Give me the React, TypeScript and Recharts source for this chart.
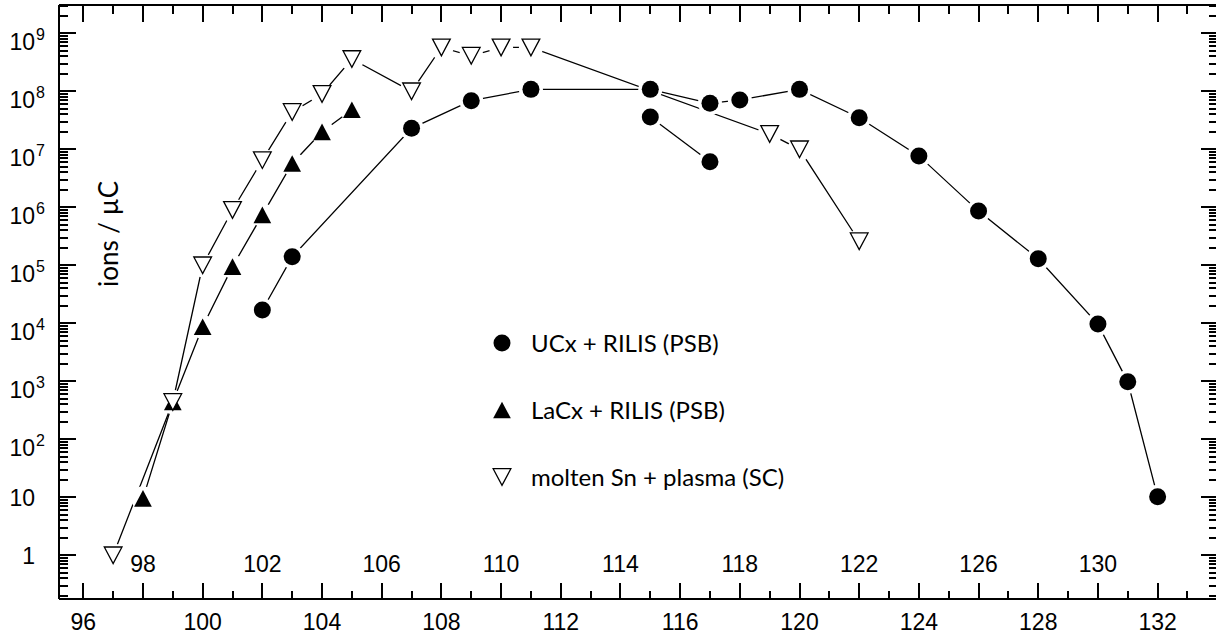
import React from 'react';
import { LineChart, Line, XAxis, YAxis, Legend } from 'recharts';

// ion yields (ions / µC) against mass number
const ucxMass = [102, 103, 107, 109, 111, 115, 117, 118, 120, 122, 124, 126, 128, 130, 131, 132];
const ucxYield = [1.7e4, 1.4e5, 2.3e7, 6.9e7, 1.08e8, 1.08e8, 6.2e7, 7.1e7, 1.08e8, 3.5e7, 7.7e6, 8.6e5, 1.3e5, 9.7e3, 9.8e2, 10.2];
// second UCx branch (115 -> 117), drawn as its own segment
const ucxBranchMass = [115, 117];
const ucxBranchYield = [3.6e7, 6.1e6];
const lacxMass = [98, 99, 100, 101, 102, 103, 104, 105];
const lacxYield = [9.6, 4.4e2, 8.7e3, 9.5e4, 7.4e5, 5.7e6, 2.0e7, 4.8e7];
const snMass = [97, 99, 100, 101, 102, 103, 104, 105, 107, 108, 109, 110, 111, 119, 120, 122];
const snYield = [1.0, 4.4e2, 1.0e5, 9e5, 6.5e6, 4.4e7, 9e7, 3.6e8, 1.0e8, 5.7e8, 4.1e8, 5.7e8, 5.7e8, 1.84e7, 1.0e7, 2.6e5];

const legendLabels = ['UCx + RILIS (PSB)', 'LaCx + RILIS (PSB)', 'molten Sn + plasma (SC)'];
const legendKinds = ['circle', 'up', 'down'];

const massTicks = [96, 97, 98, 99, 100, 101, 102, 103, 104, 105, 106, 107, 108, 109, 110, 111, 112, 113, 114,
  115, 116, 117, 118, 119, 120, 121, 122, 123, 124, 125, 126, 127, 128, 129, 130, 131, 132, 133];
const decades = [-1, 0, 1, 2, 3, 4, 5, 6, 7, 8, 9];
const mantissas = [1, 2, 3, 4, 5, 6, 7, 8, 9];

const X_DOMAIN = [95.186, 133.99];
const Y_DOMAIN = [Math.pow(10, -0.753), Math.pow(10, 9.488)];

const yieldTicks: number[] = [];
decades.forEach((k) => mantissas.forEach((m) => {
  const v = Number(`${m}e${k}`);
  if (v >= Y_DOMAIN[0] && v <= Y_DOMAIN[1]) yieldTicks.push(v);
}));

const tickFont = '"Liberation Sans", Arial, sans-serif';
const textFont = 'Lato, "Open Sans", sans-serif';

const toPoints = (xs: number[], ys: number[]) => xs.map((x, i) => ({ x, y: ys[i] }));

const series = [
  { key: 'ucx', kind: 'circle', data: toPoints(ucxMass, ucxYield) },
  { key: 'ucx2', kind: 'circle', data: toPoints(ucxBranchMass, ucxBranchYield) },
  { key: 'lacx', kind: 'up', data: toPoints(lacxMass, lacxYield) },
  { key: 'sn', kind: 'down', data: toPoints(snMass, snYield) },
];

const Marker = ({ kind, cx, cy }: { kind: string; cx: number; cy: number }) => {
  const w = 8.85;
  const h = 8.3;
  if (kind === 'circle') return <circle cx={cx} cy={cy} r={8.5} fill="#000" />;
  if (kind === 'up') {
    return <polygon points={`${cx},${cy - h} ${cx + w},${cy + h} ${cx - w},${cy + h}`} fill="#000" />;
  }
  return (
    <polygon points={`${cx - w},${cy - h} ${cx + w},${cy - h} ${cx},${cy + h}`}
      fill="#fff" stroke="#000" strokeWidth={1.3} />
  );
};

const isDecade = (v: number) => Math.abs(Math.log10(v) - Math.round(Math.log10(v))) < 1e-9;

// inward tick marks as 2px rects snapped to whole pixels
const hTick = (x0: number, y: number, len: number) => (
  <rect x={Math.round(Math.min(x0, x0 + len))} y={Math.round(y) - 1} width={Math.abs(len)} height={2} fill="#000" />
);
const vTick = (x: number, y0: number, len: number) => (
  <rect x={Math.round(x) - 1} y={Math.round(Math.min(y0, y0 + len))} width={2} height={Math.abs(len)} fill="#000" />
);

const LeftTick = (props: any) => {
  const x = Number(props.x);
  const y = Number(props.y);
  const v = props.payload.value as number;
  const major = isDecade(v);
  const exp = Math.round(Math.log10(v));
  let label = null;
  if (major && exp === 0) {
    label = <text x={x - 24} y={y + 9} textAnchor="end" fontFamily={tickFont} fontSize={23} fill="#000">1</text>;
  } else if (major && exp === 1) {
    label = <text x={x - 24} y={y + 9} textAnchor="end" fontFamily={tickFont} fontSize={23} fill="#000">10</text>;
  } else if (major) {
    label = (
      <g>
        <text x={x - 24} y={y + 16.5} textAnchor="end" fontFamily={tickFont} fontSize={23} fill="#000">10</text>
        <text x={x - 23} y={y + 6.5} textAnchor="start" fontFamily={tickFont} fontSize={16} fill="#000">{exp}</text>
      </g>
    );
  }
  return (
    <g>
      {hTick(x, y, major ? 17 : 9)}
      {label}
    </g>
  );
};

const RightTick = (props: any) => hTick(Number(props.x), Number(props.y), isDecade(props.payload.value) ? -16 : -8);

const BottomTick = (props: any) => {
  const x = Number(props.x);
  const y = Number(props.y);
  const v = props.payload.value as number;
  const major = v % 2 === 0;
  return (
    <g>
      {vTick(x, y, major ? -16 : -8)}
      {major && (
        <text x={x} y={v % 4 === 0 ? y + 31 : y - 27} textAnchor="middle"
          fontFamily={tickFont} fontSize={23} fill="#000">{v}</text>
      )}
    </g>
  );
};

const TopTick = (props: any) => vTick(Number(props.x), Number(props.y), (props.payload.value as number) % 2 === 0 ? 17 : 9);

const LegendBox = () => (
  <svg width={420} height={200} style={{ display: 'block' }}>
    {legendLabels.map((label, i) => {
      const cy = 33 + i * 67;
      return (
        <g key={label}>
          <Marker kind={legendKinds[i]} cx={22} cy={cy} />
          <text x={51} y={cy + 8.5} fontFamily={textFont} fontSize={24} fill="#000">{label}</text>
        </g>
      );
    })}
  </svg>
);

export default function App() {
  return (
    <div style={{ position: 'absolute', left: 0, top: 0, width: 1216, height: 635, overflow: 'hidden', background: '#fff' }}>
      <LineChart width={1218} height={635} margin={{ top: 0, right: 0, bottom: 0, left: 0 }}>
        <XAxis xAxisId="bottom" dataKey="x" type="number" domain={X_DOMAIN} allowDataOverflow
          ticks={massTicks} interval={0} height={36} tickSize={0} tickMargin={0} tickLine={false}
          axisLine={{ stroke: '#000', strokeWidth: 2 }} tick={<BottomTick />} />
        <XAxis xAxisId="top" orientation="top" dataKey="x" type="number" domain={X_DOMAIN} allowDataOverflow
          ticks={massTicks} interval={0} height={5} tickSize={0} tickMargin={0} tickLine={false}
          axisLine={{ stroke: '#000', strokeWidth: 2 }} tick={<TopTick />} />
        <YAxis yAxisId="left" type="number" scale="log" domain={Y_DOMAIN} allowDataOverflow
          ticks={yieldTicks} interval={0} width={59} tickSize={0} tickMargin={0} tickLine={false}
          axisLine={{ stroke: '#000', strokeWidth: 2 }} tick={<LeftTick />} />
        <YAxis yAxisId="right" orientation="right" type="number" scale="log" domain={Y_DOMAIN} allowDataOverflow
          ticks={yieldTicks} interval={0} width={1} tickSize={0} tickMargin={0} tickLine={false}
          axisLine={false} tick={<RightTick />} />

        {series.map((s) => (
          <Line key={`line-${s.key}`} data={s.data} dataKey="y" xAxisId="bottom" yAxisId="left"
            stroke="#000" strokeWidth={1.3} dot={false} activeDot={false} legendType="none"
            isAnimationActive={false} />
        ))}
        {series.map((s) => (
          <Line key={`halo-${s.key}`} data={s.data} dataKey="y" xAxisId="top" yAxisId="right"
            stroke="none" activeDot={false} legendType="none" isAnimationActive={false}
            dot={(p: any) => <circle key={`h-${s.key}-${p.index}`} cx={p.cx} cy={p.cy} r={12} fill="#fff" />} />
        ))}
        {series.map((s) => (
          <Line key={`mark-${s.key}`} data={s.data} dataKey="y" xAxisId="bottom" yAxisId="left"
            stroke="none" activeDot={false} legendType="none" isAnimationActive={false}
            dot={(p: any) => <g key={`m-${s.key}-${p.index}`}><Marker kind={s.kind} cx={p.cx} cy={p.cy} /></g>} />
        ))}

        <text transform="translate(118, 234) rotate(-90)" textAnchor="middle"
          fontFamily={textFont} fontSize={26} fill="#000">ions / µC</text>

        <Legend layout="vertical" align="center" verticalAlign="middle" content={<LegendBox />}
          wrapperStyle={{ left: 480, top: 310, width: 420, height: 200 }} />
      </LineChart>
    </div>
  );
}
